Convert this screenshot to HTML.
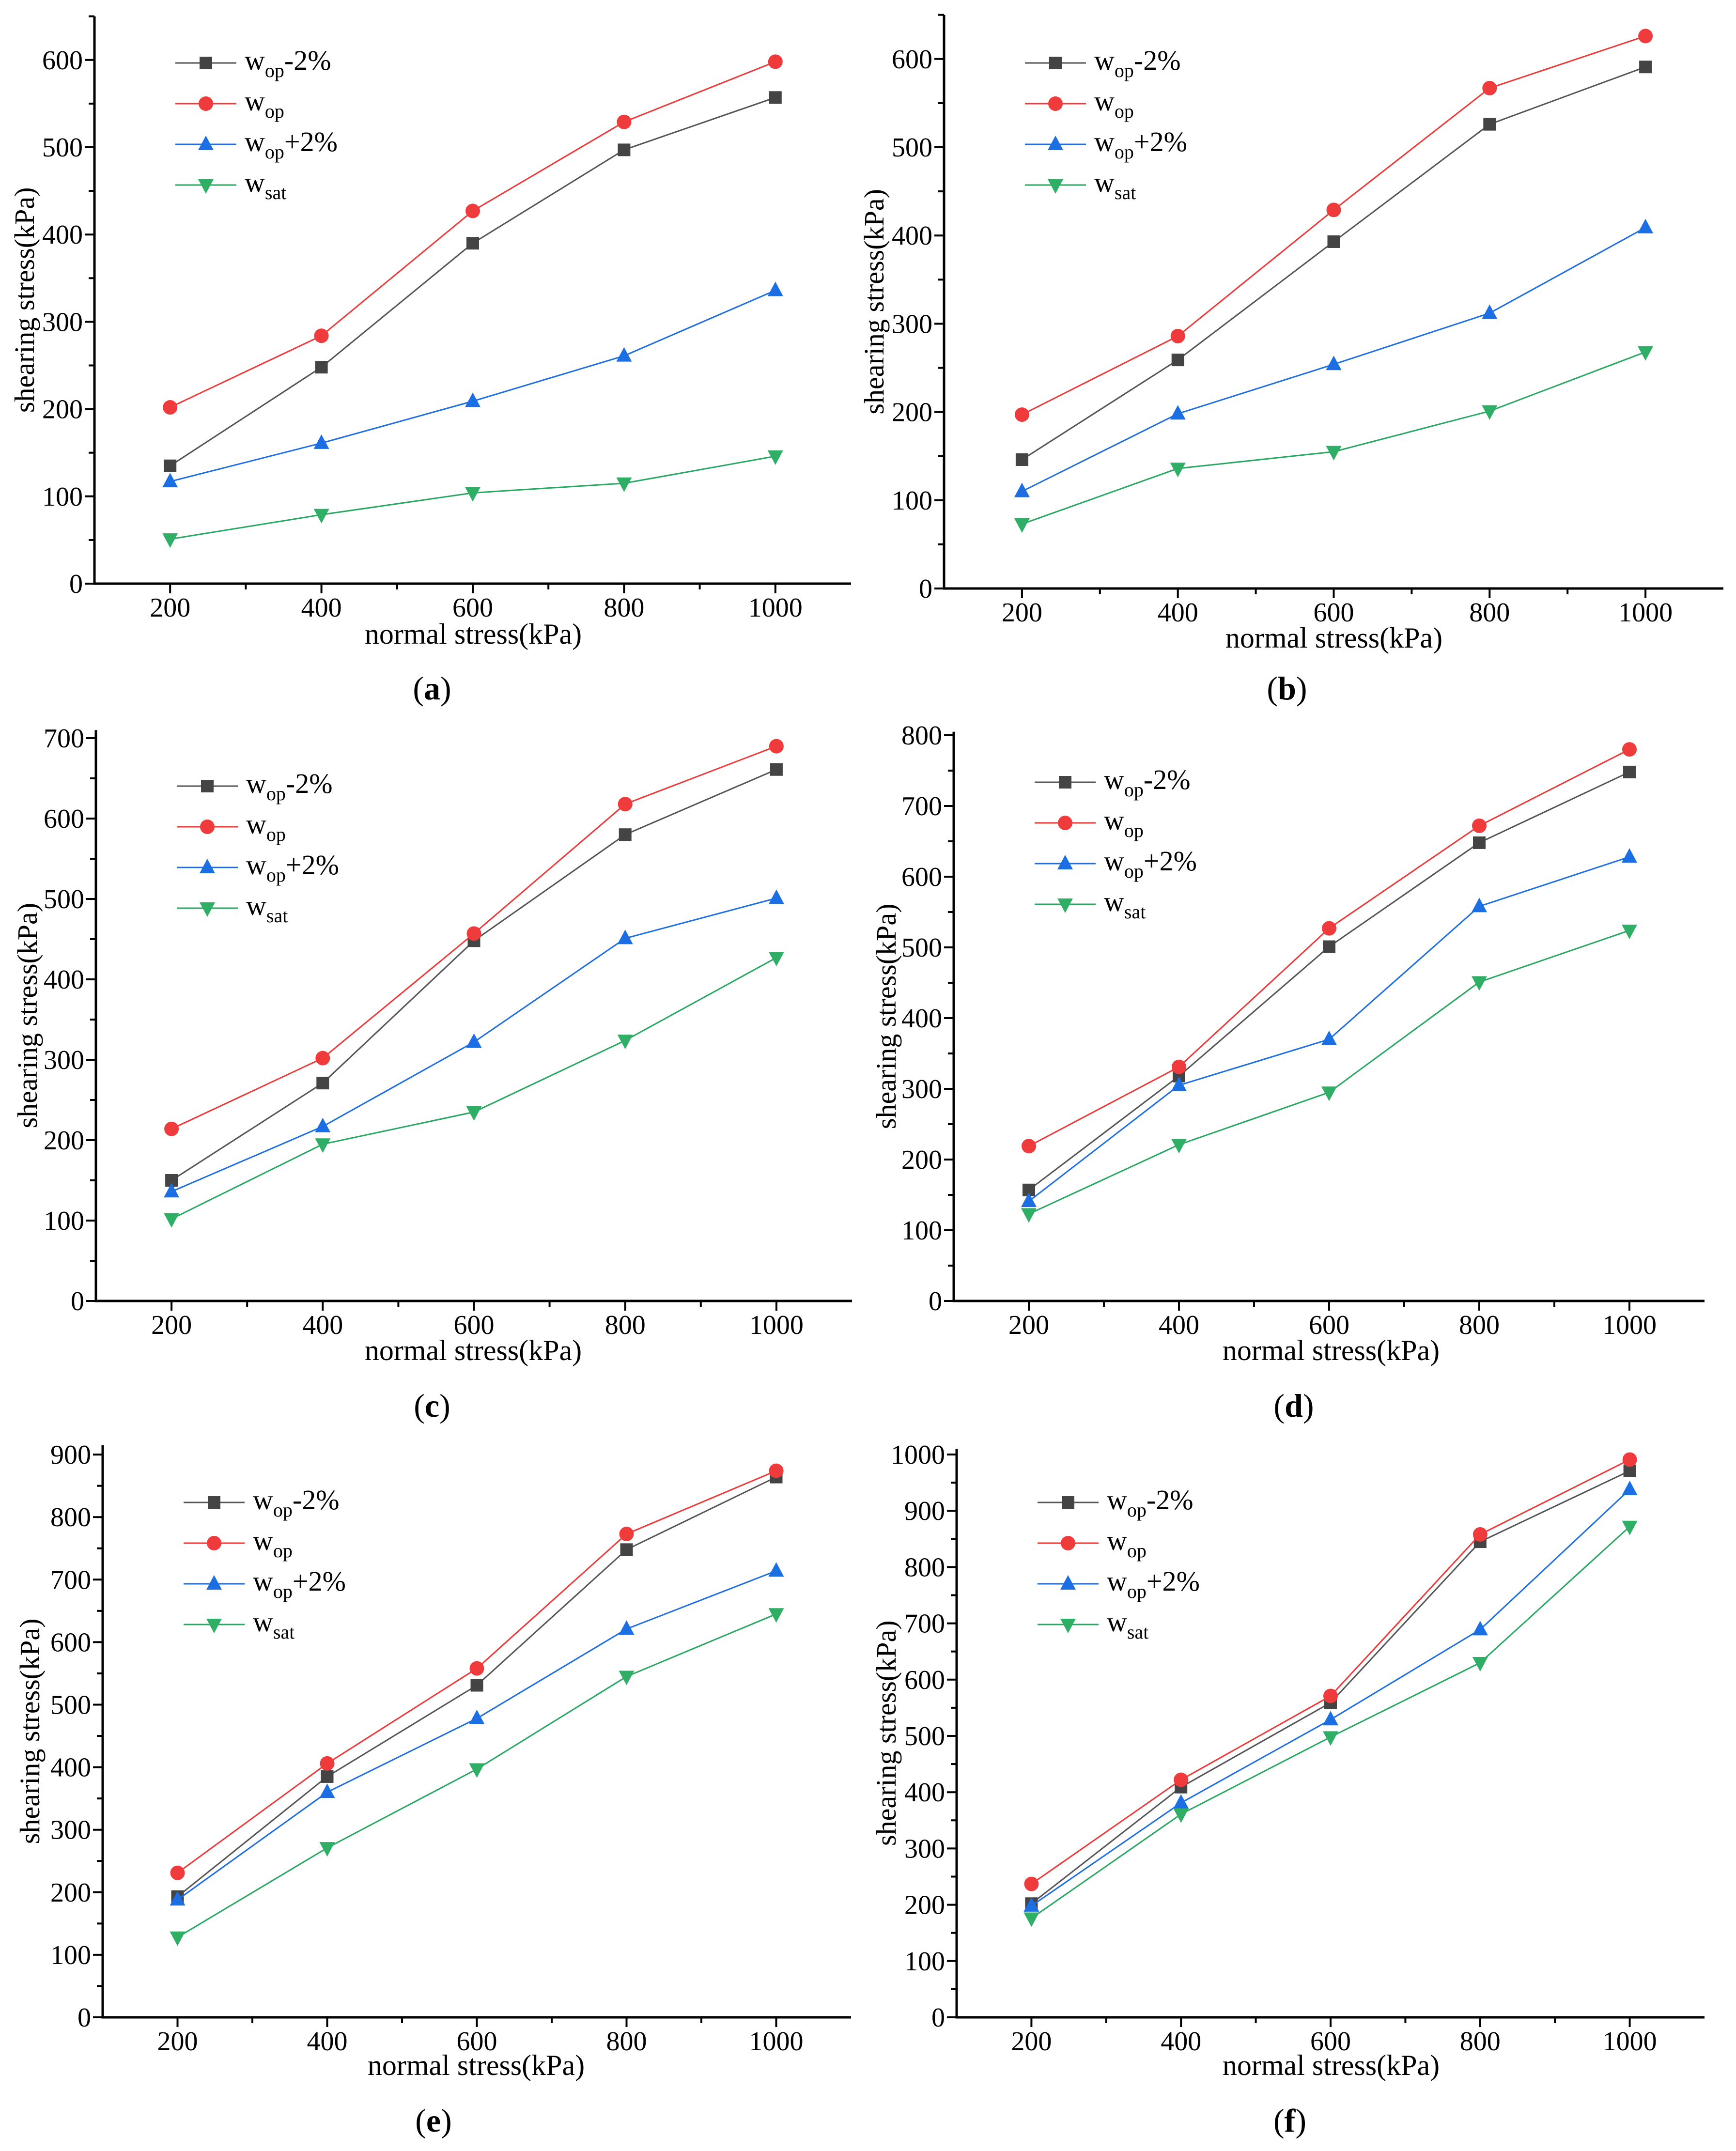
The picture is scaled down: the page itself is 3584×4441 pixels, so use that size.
<!DOCTYPE html>
<html><head><meta charset="utf-8"><style>
html,body{margin:0;padding:0;background:#fff}
svg{display:block}
text{font-family:"Liberation Serif",serif;fill:#000}
</style></head><body>
<svg id="fig" width="3584" height="4441" viewBox="0 0 3584 4441" xmlns="http://www.w3.org/2000/svg"></svg>
<script>
const categories=[200,400,600,800,1000];
const seriesNames=["wop-2%","wop","wop+2%","wsat"];
const a_wopm2=[135,248,390,497,557], a_wop=[202,284,427,529,598], a_wopp2=[117,161,209,261,336], a_wsat=[51,79,104,115,146];
const b_wopm2=[146,259,393,526,591], b_wop=[197,286,429,567,626], b_wopp2=[110,198,254,312,409], b_wsat=[73,136,155,201,268];
const c_wopm2=[150,271,448,580,661], c_wop=[214,302,457,618,690], c_wopp2=[136,217,322,451,501], c_wsat=[102,195,235,324,427];
const d_wopm2=[157,318,501,648,748], d_wop=[219,331,527,672,780], d_wopp2=[141,305,370,558,628], d_wsat=[123,221,295,451,524];
const e_wopm2=[193,385,531,748,864], e_wop=[231,406,558,773,874], e_wopp2=[188,360,478,621,714], e_wsat=[128,271,397,545,645];
const f_wopm2=[202,409,559,845,971], f_wop=[237,422,571,858,991], f_wopp2=[198,381,529,689,938], f_wsat=[176,361,498,630,872];
const yTickMax=[600,600,700,800,900,1000];
const panelLabels=["a","b","c","d","e","f"];

const NS="http://www.w3.org/2000/svg";
const svg=document.getElementById('fig');
function mk(tag,attrs,parent){const e=document.createElementNS(NS,tag);for(const k in attrs)e.setAttribute(k,attrs[k]);(parent||svg).appendChild(e);return e;}
const colors=["#555555","#ee3a3a","#1f6fe0","#2aa863"];
const mcolors=["#444444","#ef3b3b","#1c6fe3","#2fae66"];
const FT=56, FA=60, FL=68, FG=58;

const panels=[
 {L:195,R:1757,B:1205,per:180.2,ymax:650,leg:130,lab:[892,1420],xt:[977,1309],yt:51,data:[a_wopm2,a_wop,a_wopp2,a_wsat]},
 {L:1949,R:3558,B:1215,per:182.2,ymax:650,leg:130,lab:[2657,1420],xt:[2754,1317],yt:1805,data:[b_wopm2,b_wop,b_wopp2,b_wsat]},
 {L:198,R:1759,B:2686,per:166,ymax:710,leg:1623,lab:[892,2901],xt:[977,2788],yt:57,data:[c_wopm2,c_wop,c_wopp2,c_wsat]},
 {L:1969,R:3519,B:2686,per:146,ymax:805,leg:1615,lab:[2671,2901],xt:[2748,2788],yt:1830,data:[d_wopm2,d_wop,d_wopp2,d_wsat]},
 {L:212,R:1757,B:4165,per:129.1,ymax:915,leg:3102,lab:[895,4377],xt:[983,4264],yt:62,data:[e_wopm2,e_wop,e_wopp2,e_wsat]},
 {L:1975,R:3519,B:4165,per:116.2,ymax:1010,leg:3102,lab:[2663,4377],xt:[2748,4264],yt:1830,data:[f_wopm2,f_wop,f_wopp2,f_wsat]}
];

function marker(g,k,x,y){
  const c=mcolors[k];let m;
  if(k===0){m=mk('rect',{x:x-13,y:y-13,width:26,height:26,fill:c},g);}
  else if(k===1){m=mk('circle',{cx:x,cy:y,r:15,fill:c},g);}
  else if(k===2){m=mk('polygon',{points:`${x},${y-18} ${x-16},${y+12} ${x+16},${y+12}`,fill:c},g);}
  else {m=mk('polygon',{points:`${x},${y+18} ${x-16},${y-12} ${x+16},${y-12}`,fill:c},g);}
  return m;
}

panels.forEach((p,pi)=>{
  const g=mk('g',{});
  
  
  const xs=v=>p.L+(v-100)/1000*(p.R-p.L);
  const ys=v=>p.B-v/100*p.per;
  const T=ys(p.ymax);
  const ax=mk('path',{d:`M${p.L},${T} L${p.L},${p.B} L${p.R},${p.B}`,fill:'none',stroke:'#000','stroke-width':5},g);
  
  
  for(let v=0;v<=p.ymax;v+=50){
    const y=ys(v),maj=v%100===0;
    mk('line',{x1:p.L,x2:p.L-(maj?20:12),y1:y,y2:y,stroke:'#000','stroke-width':4},g);
    if(maj&&v<=yTickMax[pi]){
      const t=mk('text',{x:p.L-24,y:y+19,'text-anchor':'end','font-size':FT},g);
      t.textContent=v;
      
      
    }
  }
  for(let v=200;v<=1000;v+=100){
    const x=xs(v),maj=v%200===0;
    mk('line',{x1:x,x2:x,y1:p.B,y2:p.B+(maj?20:12),stroke:'#000','stroke-width':4},g);
    if(maj){
      const t=mk('text',{x:x,y:p.B+68,'text-anchor':'middle','font-size':FT},g);
      t.textContent=v;
      
      
    }
  }
  const xt=mk('text',{x:p.xt[0],y:p.xt[1]+20,'text-anchor':'middle','font-size':FA},g);
  xt.textContent='normal stress(kPa)';
  
  
  const yc=(T+p.B)/2;
  const yt=mk('text',{x:p.yt,y:yc,'text-anchor':'middle','font-size':FA-2,transform:`rotate(-90 ${p.yt} ${yc}) translate(0 19)`},g);
  yt.textContent='shearing stress(kPa)';
  
  
  const lb=mk('text',{x:p.lab[0],y:p.lab[1]+24,'text-anchor':'middle','font-size':FL},g);
  lb.innerHTML='(<tspan font-weight="bold">'+panelLabels[pi]+'</tspan>)';
  
  
  p.data.forEach((arr,k)=>{
    const pts=arr.map((v,i)=>xs(categories[i])+','+ys(v)).join(' ');
    const l=mk('polyline',{points:pts,fill:'none',stroke:colors[k],'stroke-width':3},g);
    
    
    arr.forEach((v,i)=>{
      const m=marker(g,k,xs(categories[i]),ys(v));
      
      
    });
  });
  const subs=["op","op","op","sat"], tails=["-2%","","+2%",""];
  for(let k=0;k<4;k++){
    const y=p.leg+k*84, x0=p.L+167;
    const lg=mk('g',{},g);
    
    
    mk('line',{x1:x0,x2:x0+126,y1:y,y2:y,stroke:colors[k],'stroke-width':3},lg);
    marker(lg,k,x0+63,y);
    const t=mk('text',{x:x0+143,y:y+14,'font-size':FG},lg);
    t.innerHTML='w<tspan font-size="40" dy="15">'+subs[k]+'</tspan><tspan dy="-15">'+tails[k]+'</tspan>';
  }
});
</script>
</body></html>
